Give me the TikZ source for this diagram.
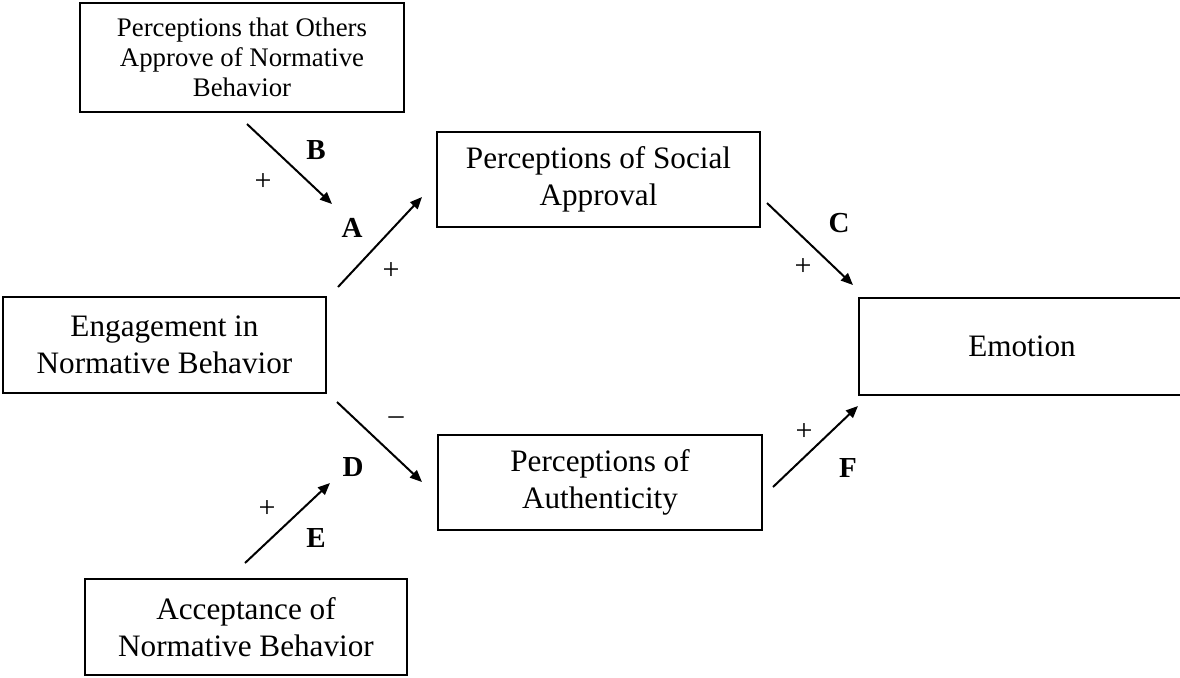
\documentclass[tikz,border=0pt]{standalone}
\usepackage{fontspec}
\setmainfont{Liberation Serif}
\usetikzlibrary{arrows.meta}
\begin{document}
\begin{tikzpicture}[x=0.5pt,y=-0.5pt,
  box/.style={draw,line width=0.6pt,align=center,inner sep=0pt,font=\fontsize{15.6}{18.5}\selectfont},
  smallbox/.style={box,font=\fontsize{13.4}{15}\selectfont},
  arr/.style={line width=1pt,-{Triangle[length=6pt,width=5pt]}},
  lbl/.style={font=\fontsize{14.5}{16}\selectfont\bfseries,inner sep=0pt},
  sgn/.style={font=\fontsize{15}{16}\selectfont,inner sep=0pt}]
\clip (0,0) rectangle (1180,677);
% boxes
\node[smallbox,minimum width=162pt,minimum height=54.5pt] (others) at (242,57.5)
  {Perceptions that Others\\Approve of Normative\\Behavior};
\node[box,minimum width=161.5pt,minimum height=47.5pt] (social) at (598.5,179.5)
  {Perceptions of Social\\Approval};
\node[box,minimum width=161.5pt,minimum height=48pt] (engage) at (164.5,345)
  {Engagement in\\Normative Behavior};
\node[box,line width=0.9pt,minimum width=163pt,minimum height=48.5pt] (emotion) at (1022,346.5)
  {Emotion};
\node[box,minimum width=162pt,minimum height=47.5pt] (auth) at (600,482.5)
  {Perceptions of\\Authenticity};
\node[box,minimum width=161pt,minimum height=48pt] (accept) at (246,627)
  {Acceptance of\\Normative Behavior};
% arrow end points
\coordinate (bS) at (247,124);  \coordinate (bE) at (332,204);
\coordinate (aS) at (338,287);  \coordinate (aE) at (422,197);
\coordinate (cS) at (767,203);  \coordinate (cE) at (853,285);
\coordinate (dS) at (337,402);  \coordinate (dE) at (422,482);
\coordinate (eS) at (245,563);  \coordinate (eE) at (330,483);
\coordinate (fS) at (773,487);  \coordinate (fE) at (858,406);
\draw[arr] (bS) -- (bE);
\draw[arr] (aS) -- (aE);
\draw[arr] (cS) -- (cE);
\draw[arr] (dS) -- (dE);
\draw[arr] (eS) -- (eE);
\draw[arr] (fS) -- (fE);
% labels
\node[lbl] (lB) at (316,150) {B};
\node[sgn] (pB) at (263,182) {+};
\node[lbl] (lA) at (352,228) {A};
\node[sgn] (pA) at (391,271) {+};
\node[lbl] (lC) at (839,223) {C};
\node[sgn] (pC) at (803,267) {+};
\node[sgn] (mD) at (396,421) {\textendash};
\node[lbl] (lD) at (353,467) {D};
\node[sgn] (pE) at (267,509) {+};
\node[lbl] (lE) at (316,538) {E};
\node[sgn] (pF) at (804,432) {+};
\node[lbl] (lF) at (848,468) {F};
\end{tikzpicture}
\end{document}
